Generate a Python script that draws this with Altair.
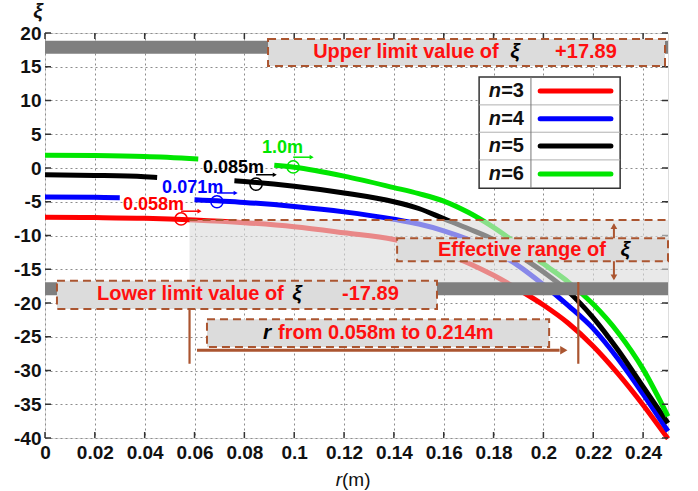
import altair as alt
import pandas as pd

# ---------------- plot geometry & scales ----------------
W, H = 623, 405
XS = alt.Scale(domain=[0, 0.25], nice=False, zero=False)
YS = alt.Scale(domain=[-40, 20], nice=False, zero=False)
FONT = "Liberation Sans"

BROWN = "#ab5530"
BOX_FILL = "#dcdcdc"
BAR_GRAY = "#7f7f7f"
TXT_RED = "#ff1010"

# ---------------- curve data: ξ versus r for n = 3..6 ----------------
N_IDS = ["n3", "n4", "n5", "n6"]
N_COLORS = ["#ff0000", "#0000ff", "#000000", "#00e600"]

R_N3 = [0, 0.02, 0.04, 0.06, 0.08, 0.10, 0.12, 0.14, 0.15, 0.16, 0.17, 0.18, 0.19, 0.20, 0.21, 0.22, 0.23, 0.24, 0.25]
XI_N3 = [-7.3, -7.35, -7.45, -7.7, -8.1, -8.7, -9.6, -10.6, -11.5, -12.6, -14.1, -15.9, -18.0, -20.3, -23.0, -26.4, -30.5, -35.1, -40.1]
PIECE_N3 = [0] * 19

R_N4 = [0, 0.02, 0.03, 0.06, 0.08, 0.10, 0.12, 0.14, 0.15, 0.16, 0.17, 0.18, 0.19, 0.20, 0.21, 0.22, 0.23, 0.24, 0.25]
XI_N4 = [-4.3, -4.35, -4.4, -4.7, -5.1, -5.7, -6.5, -7.6, -8.3, -9.3, -10.6, -12.3, -14.5, -17.3, -20.4, -23.8, -28.3, -33.5, -39.0]
PIECE_N4 = [0, 0, 0] + [1] * 16

R_N5 = [0, 0.02, 0.04, 0.045, 0.076, 0.08, 0.10, 0.12, 0.14, 0.15, 0.16, 0.17, 0.18, 0.19, 0.20, 0.21, 0.22, 0.23, 0.24, 0.25]
XI_N5 = [-1.0, -1.1, -1.3, -1.4, -1.9, -2.0, -2.7, -3.7, -5.0, -6.0, -7.5, -9.0, -10.6, -12.9, -15.4, -18.3, -22.2, -27.0, -32.4, -37.8]
PIECE_N5 = [0, 0, 0, 0] + [1] * 16

R_N6 = [0, 0.02, 0.04, 0.0615, 0.092, 0.10, 0.12, 0.14, 0.15, 0.16, 0.17, 0.18, 0.19, 0.20, 0.21, 0.22, 0.23, 0.24, 0.25]
XI_N6 = [1.9, 1.85, 1.7, 1.35, 0.4, 0.1, -1.2, -2.9, -3.8, -4.9, -6.6, -8.8, -11.4, -14.2, -16.9, -20.2, -24.4, -29.8, -36.8]
PIECE_N6 = [0, 0, 0, 0] + [1] * 15

# ---------------- annotation values (data units) ----------------
XI_UPPER = 17.89
XI_LOWER = -17.89
XI_EFF_TOP = -7.7
R_START, R_END = 0.058, 0.214

X_TICKS = [round(i * 0.02, 2) for i in range(13)]
Y_TICKS = list(range(-40, 21, 5))

rows = []
for nid, rs, xs, ps in [("n3", R_N3, XI_N3, PIECE_N3), ("n4", R_N4, XI_N4, PIECE_N4),
                        ("n5", R_N5, XI_N5, PIECE_N5), ("n6", R_N6, XI_N6, PIECE_N6)]:
    for r, xi, p in zip(rs, xs, ps):
        rows.append({"n": nid, "piece": f"{nid}-{p}", "r": r, "xi": xi})
curve_df = pd.DataFrame(rows)

color_n = alt.Color("n:N", scale=alt.Scale(domain=N_IDS, range=N_COLORS), legend=None)

x_axis = alt.Axis(values=X_TICKS, labelExpr="datum.value + ''", title=None, ticks=False,
                  domain=False, grid=True, gridDash=[2, 3], gridColor="#8c8c8c",
                  labelFont=FONT, labelFontSize=19, labelFontWeight="bold", labelColor="#111",
                  labelPadding=5, labelFlush=False, labelOverlap=False)
y_axis = alt.Axis(values=Y_TICKS, labelExpr="datum.value + ''", title=None, ticks=False,
                  domain=False, grid=True, gridDash=[2, 3], gridColor="#8c8c8c",
                  labelFont=FONT, labelFontSize=19, labelFontWeight="bold", labelColor="#111",
                  labelPadding=4, labelFlush=False, labelOverlap=False)


def X(field="r"):
    return alt.X(f"{field}:Q", scale=XS, axis=x_axis, title=None)


def Y(field="xi"):
    return alt.Y(f"{field}:Q", scale=YS, axis=y_axis, title=None)


curves = alt.Chart(curve_df).mark_line(strokeWidth=5, interpolate="monotone").encode(
    x=X(), y=Y(), color=color_n, detail="piece:N", order="r:Q",
)

# inward tick marks on all four sides
xt = pd.DataFrame({"v": X_TICKS})
yt = pd.DataFrame({"v": Y_TICKS})
tick_kw = dict(color="#333", strokeWidth=1.5)
ticks = [
    alt.Chart(xt).mark_rule(**tick_kw).encode(x=X("v"), y=alt.value(H), y2=alt.value(H - 6)),
    alt.Chart(xt).mark_rule(**tick_kw).encode(x=X("v"), y=alt.value(0), y2=alt.value(6)),
    alt.Chart(yt).mark_rule(**tick_kw).encode(y=Y("v"), x=alt.value(0), x2=alt.value(6)),
    alt.Chart(yt).mark_rule(**tick_kw).encode(y=Y("v"), x=alt.value(W), x2=alt.value(W - 6)),
]

# shaded effective range of ξ
eff_df = pd.DataFrame({"r": [R_START], "r2": [0.25], "xi": [XI_EFF_TOP], "xi2": [XI_LOWER]})
eff_rect = alt.Chart(eff_df).mark_rect(color=BOX_FILL, opacity=0.62).encode(
    x=X(), x2="r2:Q", y=Y(), y2="xi2:Q")
eff_top = alt.Chart(eff_df).mark_rule(color=BROWN, strokeWidth=2, strokeDash=[8, 5]).encode(
    x=X(), x2="r2:Q", y=Y())

# double arrow spanning the effective range
R_DARROW = 0.2283
darrow_df = pd.DataFrame({"r": [R_DARROW], "xi": [-8.4], "xi2": [-16.4]})
darrow = alt.Chart(darrow_df).mark_rule(color=BROWN, strokeWidth=2).encode(x=X(), y=Y(), y2="xi2:Q")
dheads_df = pd.DataFrame({"r": [R_DARROW, R_DARROW], "xi": [-8.6, -16.2],
                          "shape": ["triangle-up", "triangle-down"]})
dheads = alt.Chart(dheads_df).mark_point(filled=True, size=45, color=BROWN, opacity=1).encode(
    x=X(), y=Y(), shape=alt.Shape("shape:N", scale=None))

# limit bars at ±17.89
bars_df = pd.DataFrame({"r": [0, 0], "r2": [0.25, 0.25], "xi": [XI_UPPER, XI_LOWER]})
bars = alt.Chart(bars_df).mark_rule(color=BAR_GRAY, strokeWidth=13).encode(x=X(), x2="r2:Q", y=Y())

# label boxes
boxes_df = pd.DataFrame({
    "r": [0.0895, 0.0048, 0.1413, 0.0650],
    "r2": [0.2488, 0.1573, 0.2500, 0.2023],
    "xi": [19.1, -16.7, -10.4, -22.4],
    "xi2": [15.1, -20.9, -13.8, -26.5],
})
boxes = alt.Chart(boxes_df).mark_rect(fill=BOX_FILL, stroke=BROWN, strokeWidth=2,
                                      strokeDash=[8, 5], opacity=1).encode(
    x=X(), x2="r2:Q", y=Y(), y2="xi2:Q")

red_txt_df = pd.DataFrame({
    "label": ["Upper limit value of", "+17.89", "Lower limit value of", "-17.89",
              "Effective range of", "from 0.058m to 0.214m"],
    "r": [0.1076, 0.2047, 0.0209, 0.1192, 0.1577, 0.0935],
    "xi": [17.2, 17.2, -18.6, -18.6, -12.2, -24.4],
})
red_txt = alt.Chart(red_txt_df).mark_text(font=FONT, fontSize=20, fontWeight="bold", color=TXT_RED,
                                          align="left", baseline="middle").encode(
    x=X(), y=Y(), text="label:N")

sym_df = pd.DataFrame({
    "label": ["ξ", "ξ", "ξ", "r"],
    "r": [0.1886, 0.1011, 0.2328, 0.0891],
    "xi": [17.2, -18.6, -12.2, -24.4],
})
sym_txt = alt.Chart(sym_df).mark_text(font=FONT, fontSize=21, fontWeight="bold", fontStyle="italic",
                                      color="#000", align="center", baseline="middle").encode(
    x=X(), y=Y(), text="label:N")

# range markers below the lower limit
vlines_df = pd.DataFrame({"r": [R_START, R_END], "xi": [-20.9, -16.9], "xi2": [-29.0, -29.0]})
vlines = alt.Chart(vlines_df).mark_rule(color=BROWN, strokeWidth=2.2).encode(x=X(), y=Y(), y2="xi2:Q")
harrow_df = pd.DataFrame({"r": [0.061], "r2": [0.2065], "xi": [-27.0]})
harrow = alt.Chart(harrow_df).mark_rule(color=BROWN, strokeWidth=3).encode(x=X(), x2="r2:Q", y=Y())
hhead = alt.Chart(pd.DataFrame({"r": [0.2082], "xi": [-27.0]})).mark_point(
    shape="triangle-right", filled=True, size=70, color=BROWN, opacity=1).encode(x=X(), y=Y())

# values of r marked on each curve
mark_df = pd.DataFrame({
    "n": ["n6", "n5", "n4", "n3"],
    "label": ["1.0m", "0.085m", "0.071m", "0.058m"],
    "lr": [0.0871, 0.0634, 0.0470, 0.0313],
    "lxi": [3.0, 0.0, -3.0, -5.5],
    "r": [0.0996, 0.0847, 0.0690, 0.0546],
    "xi": [0.15, -2.4, -5.0, -7.55],
    "ar": [0.1070, 0.0922, 0.0765, 0.0620],
    "axi": [1.6, -1.0, -3.7, -6.4],
})
mark_lbl = alt.Chart(mark_df).mark_text(font=FONT, fontSize=18, fontWeight="bold", align="left",
                                        baseline="middle").encode(
    x=X("lr"), y=Y("lxi"), text="label:N", color=color_n)
mark_circ = alt.Chart(mark_df).mark_point(shape="circle", filled=False, size=150, strokeWidth=1.5,
                                          opacity=1).encode(x=X(), y=Y(), color=color_n)
mark_arr = alt.Chart(mark_df).mark_rule(strokeWidth=1.5).encode(
    x=X(), x2="ar:Q", y=Y("axi"), color=color_n)
mark_head = alt.Chart(mark_df).mark_point(shape="triangle-right", filled=True, size=22,
                                          opacity=1).encode(x=X("ar"), y=Y("axi"), color=color_n)

# table-style legend
LEG_R0, LEG_R1, LEG_RDIV = 0.1742, 0.2308, 0.195
LEG_TOP, LEG_BOT = 13.5, -3.0
LEG_ROWS = [11.4, 7.3, 3.25, -0.9]
LEG_SEPS = [9.35, 5.3, 1.2]
LEG_TEXT = ["=3", "=4", "=5", "=6"]

leg_box = alt.Chart(pd.DataFrame({"r": [LEG_R0], "r2": [LEG_R1], "xi": [LEG_TOP], "xi2": [LEG_BOT]})).mark_rect(
    fill="white", stroke="#333", strokeWidth=1.5, opacity=1).encode(x=X(), x2="r2:Q", y=Y(), y2="xi2:Q")
leg_seps = alt.Chart(pd.DataFrame({"r": [LEG_R0] * 3, "r2": [LEG_R1] * 3, "xi": LEG_SEPS})).mark_rule(
    color="#b0b0b0", strokeWidth=1).encode(x=X(), x2="r2:Q", y=Y())
leg_div = alt.Chart(pd.DataFrame({"r": [LEG_RDIV], "xi": [LEG_TOP], "xi2": [LEG_BOT]})).mark_rule(
    color="#777", strokeWidth=1).encode(x=X(), y=Y(), y2="xi2:Q")
leg_df = pd.DataFrame({"n": N_IDS, "xi": LEG_ROWS, "eq": LEG_TEXT,
                       "r": [0.1987] * 4, "r2": [0.2271] * 4})
leg_lines = alt.Chart(leg_df).mark_rule(strokeWidth=5, strokeCap="round").encode(
    x=X(), x2="r2:Q", y=Y(), color=color_n)
leg_eq = alt.Chart(leg_df).mark_text(font=FONT, fontSize=20, fontWeight="bold", align="right",
                                     baseline="middle", color="#111").encode(
    x=alt.value((0.1922 / 0.25) * W), y=Y(), text="eq:N")
leg_n = alt.Chart(leg_df).mark_text(font=FONT, fontSize=20, fontWeight="bold", fontStyle="italic",
                                    align="right", baseline="middle", color="#111", text="n").encode(
    x=alt.value((0.1922 / 0.25) * W - 23), y=Y())

# axis titles
t_df = pd.DataFrame({"k": [0]})
x_title_r = alt.Chart(t_df).mark_text(font=FONT, fontSize=19, fontStyle="italic", text="r",
                                      align="right", baseline="middle", color="#111").encode(
    x=alt.value(297), y=alt.value(447))
x_title_m = alt.Chart(t_df).mark_text(font=FONT, fontSize=19, text="(m)", align="left",
                                      baseline="middle", color="#111").encode(
    x=alt.value(297), y=alt.value(447))
y_title = alt.Chart(t_df).mark_text(font=FONT, fontSize=21, fontStyle="italic", fontWeight="bold",
                                    text="ξ", align="center", baseline="middle", color="#111").encode(
    x=alt.value(-7), y=alt.value(-21))

chart = alt.layer(
    curves, *ticks, eff_rect, eff_top, darrow, dheads, bars, boxes, red_txt, sym_txt,
    vlines, harrow, hhead, mark_circ, mark_arr, mark_head, mark_lbl,
    leg_box, leg_seps, leg_div, leg_lines, leg_eq, leg_n,
    x_title_r, x_title_m, y_title,
).properties(
    width=W, height=H,
    autosize=alt.AutoSizeParams(type="none"),
    padding={"left": 45, "top": 33, "right": 30, "bottom": 53},
).configure_view(
    stroke="#3a3a3a", strokeWidth=1.5,
).configure(background="white")

chart.save("out.html", embed_options={"renderer": "svg", "actions": False})
